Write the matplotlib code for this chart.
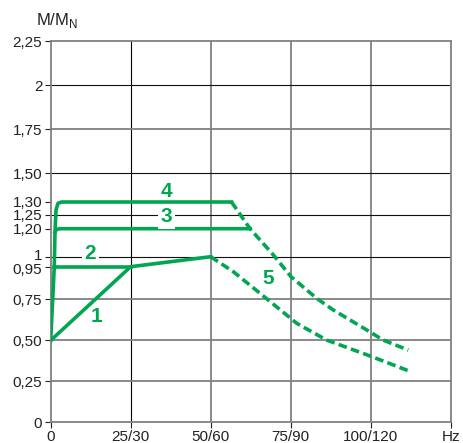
import numpy as np
import matplotlib
matplotlib.use("Agg")
import matplotlib.pyplot as plt
import matplotlib.transforms as mtransforms

plt.rcParams['font.family'] = ['Liberation Sans', 'DejaVu Sans']
plt.rcParams['mathtext.fontset'] = 'custom'
plt.rcParams['mathtext.rm'] = 'Liberation Sans'

green = '#00a651'

# frequency ticks (Hz, 50/60 Hz networks)
x_ticks = [0, 25, 50, 75, 100, 125]
x_labels = ['0', '25/30', '50/60', '75/90', '100/120', 'Hz']

# torque ratio ticks
y_ticks = [0, 0.25, 0.5, 0.75, 0.95, 1, 1.2, 1.25, 1.3, 1.5, 1.75, 2, 2.25]
y_labels = ['0', '0,25', '0,50', '0,75', '0,95', '1', '1,20', '1,25', '1,30',
            '1,50', '1,75', '2', '2,25']
grid_y = [0.25, 0.5, 0.75, 1, 1.25, 1.5, 1.75, 2]

# curve 1: self-ventilated motor
c1_x = [0, 25, 50]
c1_y = [0.5, 0.95, 1.0]
# curve 2: 0.95 level
c2_x = [1.12, 25]
c2_y = [0.95, 0.95]
# rise up to curve 4 (1.30)
c4_x = [0, 1.12, 1.34, 1.66, 2.28, 3.4, 56.5]
c4_y = [0.5, 0.95, 1.176, 1.269, 1.295, 1.30, 1.30]
# curve 3: 1.20 level
c3_x = [1.34, 1.8, 2.9, 62.3]
c3_y = [1.176, 1.195, 1.20, 1.20]
# curve 5: field weakening, dashed
d_low_x = [50, 57.1, 65.4, 76.9, 86.25, 99.8, 111.75]
d_low_y = [1.0, 0.919, 0.788, 0.604, 0.502, 0.405, 0.315]
d_up_x = [56.5, 62.3, 69.6, 75.1, 83.1, 88.3, 98.75, 103.9, 111.75]
d_up_y = [1.30, 1.20, 1.012, 0.889, 0.757, 0.686, 0.564, 0.502, 0.441]

# non-uniform vertical scale (as in the catalogue drawing)
kv = [0, 0.95, 1, 1.2, 1.25, 1.3, 1.5, 2.25]
kp = [0, 155.6, 165.6, 193.6, 207.3, 220.3, 249, 381]


def fwd(v):
    return np.interp(v, kv, kp)


def inv(p):
    return np.interp(p, kp, kv)


fig = plt.figure(figsize=(4.63, 4.43), dpi=100)
ax = fig.add_axes([0.1095, 0.0467, 0.8639, 0.8601])
ax.set_yscale('function', functions=(fwd, inv))
ax.set_xlim(0, 125)
ax.set_ylim(0, 2.25)

# grid
for gx in [25, 50, 75, 100]:
    ax.axvline(gx, color='#000000' if gx == 25 else '#808080',
               lw=0.8 if gx == 25 else 1.3, zorder=1)
for gy in grid_y:
    dark = gy in (1, 1.25, 1.5, 2)
    ax.axhline(gy, color='#111111' if dark else '#808080',
               lw=0.8 if dark else 1.3, zorder=1)
for s in ax.spines.values():
    s.set_color('#808080')
    s.set_linewidth(1.3)

lw = 2.6
ax.plot(c1_x, c1_y, color=green, lw=lw, zorder=3, solid_joinstyle='miter')
ax.plot(c2_x, c2_y, color=green, lw=lw, zorder=3)
ax.plot(c4_x, c4_y, color=green, lw=lw, zorder=3)
ax.plot(c3_x, c3_y, color=green, lw=lw, zorder=3)
ax.plot(d_low_x, d_low_y, color=green, lw=lw, ls=(0, (2.4, 1.2)), zorder=3)
ax.plot(d_up_x, d_up_y, color=green, lw=lw, ls=(0, (2.4, 1.2)), zorder=3)

lab = dict(color=green, fontsize=15, fontweight='bold', ha='center',
           va='center', zorder=4)
ax.text(36.2, 1.372, '4', **lab)
ax.text(36.2, 1.244, '3', bbox=dict(fc='white', ec='none', pad=2), **lab)
ax.text(12.3, 1.025, '2', bbox=dict(fc='white', ec='none', pad=2), **lab)
ax.text(14.4, 0.645, '1', **lab)
ax.text(68, 0.879, '5', **lab)

ax.set_xticks(x_ticks)
ax.set_xticklabels(x_labels)
ax.set_yticks(y_ticks)
ax.set_yticklabels(y_labels)
ax.minorticks_off()
ax.tick_params(axis='both', colors='#222222', labelsize=11, length=4,
               width=0.8, pad=1.5)
ax.tick_params(axis='y', pad=2)

# nudge the crowded "1" / "0,95" labels apart a little
for t in ax.get_yticklabels():
    if t.get_text() == '1':
        t.set_transform(t.get_transform() + mtransforms.ScaledTranslation(0, 1.5 / 72, fig.dpi_scale_trans))
    elif t.get_text() == '0,95':
        t.set_transform(t.get_transform() + mtransforms.ScaledTranslation(0, -1 / 72, fig.dpi_scale_trans))

fig.text(0.077, 0.944, r'M/M$_\mathrm{N}$', fontsize=12, color='#222222',
         ha='left', va='baseline')

fig.savefig('out.png', dpi=100)
